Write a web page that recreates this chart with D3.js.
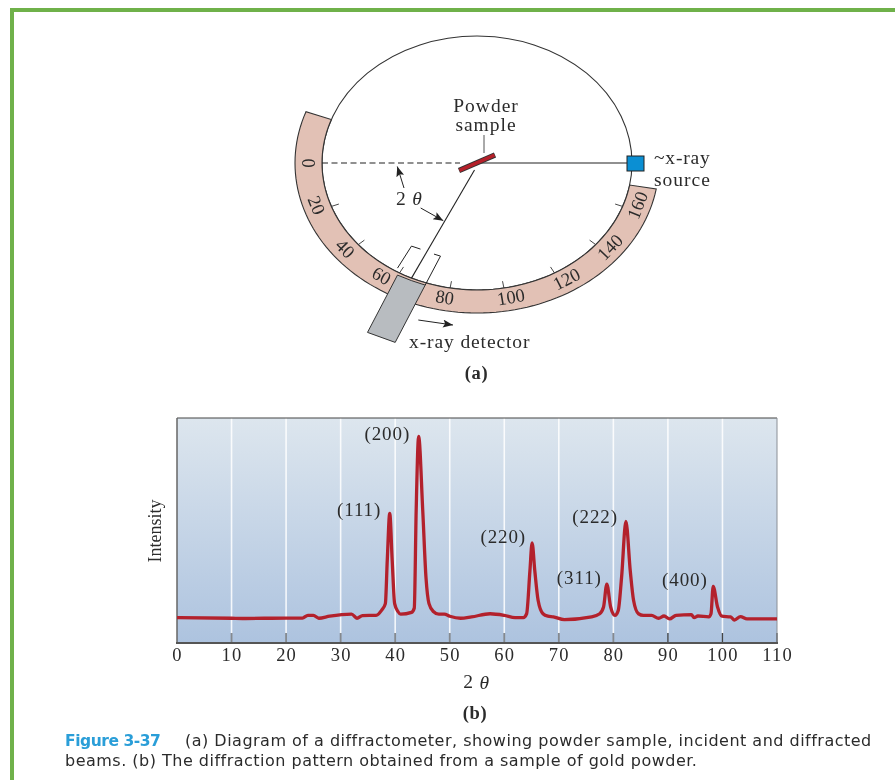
<!DOCTYPE html>
<html>
<head>
<meta charset="utf-8">
<script src="https://cdn.jsdelivr.net/npm/d3@7"></script>
<style>
  html, body { margin: 0; padding: 0; background: #fff; }
  svg { display: block; filter: blur(0.4px); }
  text { font-family: "Liberation Serif", serif; fill: #2b2b2b; }
</style>
</head>
<body>
<svg id="chart" width="895" height="780"></svg>
<script>
// pattern: 2 theta (deg) and intensity (0-100 of plot height)
let twoTheta = [0, 10, 12, 20, 23, 24, 25, 26, 28, 32, 33, 34, 36.5, 37.5, 38.2, 38.55, 39, 39.45, 39.9, 40.5, 41, 43, 43.5, 43.85, 44.3,
    45.05, 45.65, 46.2, 47, 48, 49, 50, 52, 54, 57.4, 60, 62, 63.5, 64.1, 64.7, 65.1, 65.6, 66.2, 67.1, 68, 69, 71, 76, 77.5, 78.2,
    78.8, 79.5, 80.3, 80.9, 81.5, 82.3, 83.1, 83.7, 84.6, 85.5, 87, 88.3, 89.3, 90.3, 91.5, 94.3, 94.8, 95.5, 97.5, 97.9, 98.3, 99.1, 99.9,
    101.5, 102.2, 103.3, 104.5, 110];
let intensity = [11.3, 11, 10.9, 11.1, 11.1, 12.3, 12.3, 11, 11.9, 12.8, 11, 12.2, 12.3, 14.5, 17.5, 36.8, 57.6, 36.8, 17.5, 14, 12.8, 13.6, 15.5, 59, 91.8,
    59, 29, 17.5, 14, 12.8, 12.8, 11.9, 11, 11.6, 13, 12.3, 11.3, 11.3, 13, 32, 44.5, 32, 19, 13, 11.9, 11.6, 10.4, 11.6, 13, 16,
    26.2, 16, 12.3, 14.5, 29, 54, 32, 19, 13, 12.3, 12.3, 11, 12, 10.7, 12.3, 12.6, 11.3, 12, 11.6, 13, 25.2, 16, 11.9,
    11.6, 10.2, 11.7, 10.7, 10.7];

let xTicks = d3.range(0, 111, 10);
let gridValues = d3.range(10, 101, 10);

let peakLabels = ["(111)", "(200)", "(220)", "(311)", "(222)", "(400)"];
let peakAngles = [39, 44.3, 65.1, 78.8, 82.3, 98.3];
let peakHeights = [57.6, 91.8, 44.5, 26.2, 54, 25.2];

let dialTicks = d3.range(0, 161, 20);
let dialLabelAngles = [0, 18, 38.7, 55.6, 79, 101.6, 122, 142, 162];
let dialStart = -20;
let dialEnd = 170;
let detectorAngle = 65;

let captionLines = [
    "(a) Diagram of a diffractometer, showing powder sample, incident and diffracted",
    "beams. (b) The diffraction pattern obtained from a sample of gold powder."
];

let svg = d3.select("#chart");

// -------------------- PAGE FRAME -------------------- //
svg.append("rect").attr("x", 10).attr("y", 8).attr("width", 885).attr("height", 4).attr("fill", "#6fb14a");
svg.append("rect").attr("x", 10).attr("y", 8).attr("width", 4).attr("height", 772).attr("fill", "#6fb14a");

let defs = svg.append("defs");
let grad = defs.append("linearGradient").attr("id", "plotBack")
    .attr("x1", 0).attr("y1", 0).attr("x2", 0).attr("y2", 1);
grad.append("stop").attr("offset", "0%").attr("stop-color", "#dde6ee");
grad.append("stop").attr("offset", "100%").attr("stop-color", "#adc3df");

defs.append("marker").attr("id", "head")
    .attr("viewBox", "0 0 10 8").attr("refX", 10).attr("refY", 4)
    .attr("markerWidth", 12).attr("markerHeight", 8).attr("markerUnits", "userSpaceOnUse")
    .attr("orient", "auto")
    .append("path").attr("d", "M0,0L10,4L0,8L2,4Z").attr("fill", "#222");

// -------------------- DIFFRACTOMETER (a) -------------------- //
let cx = 477, cy = 163;
let dial = svg.append("g");

// scale values on the dial go round the ellipse from the left
let angle = d3.scaleLinear().domain([0, 180]).range([0, Math.PI]);
let onEllipse = (v, rx, ry) => [cx - rx * Math.cos(angle(v)), cy + ry * Math.sin(angle(v))];

let innerRx = 155, innerRy = 127, outerRx = 182, outerRy = 150;

dial.append("ellipse")
    .attr("cx", cx).attr("cy", cy).attr("rx", innerRx).attr("ry", innerRy)
    .attr("fill", "#fff").attr("stroke", "#333").attr("stroke-width", 1.1);

let bandSteps = d3.range(dialStart, dialEnd + 1, 2);
let bandPoints = bandSteps.map(v => onEllipse(v, outerRx, outerRy))
    .concat(bandSteps.slice().reverse().map(v => onEllipse(v, innerRx, innerRy)));
dial.append("path")
    .attr("d", d3.line()(bandPoints) + "Z")
    .attr("fill", "#e2c1b5").attr("stroke", "#333").attr("stroke-width", 1.1);

dial.selectAll(".dial-tick")
    .data(dialTicks.filter(d => d > 0))
    .enter()
    .append("line")
    .attr("class", "dial-tick")
    .attr("x1", d => onEllipse(d, innerRx, innerRy)[0])
    .attr("y1", d => onEllipse(d, innerRx, innerRy)[1])
    .attr("x2", d => onEllipse(d, innerRx - 8, innerRy - 7)[0])
    .attr("y2", d => onEllipse(d, innerRx - 8, innerRy - 7)[1])
    .attr("stroke", "#333").attr("stroke-width", 0.9);

dial.selectAll(".dial-label")
    .data(dialTicks)
    .enter()
    .append("text")
    .attr("class", "dial-label")
    .attr("text-anchor", "middle")
    .attr("dominant-baseline", "central")
    .attr("font-size", 18.5)
    .attr("transform", (d, i) => {
        let t = dialLabelAngles[i];
        let p = onEllipse(t, 169, 137);
        let a = angle(t);
        let rot = Math.atan2(137 * Math.cos(a), 169 * Math.sin(a)) * 180 / Math.PI;
        return `translate(${p[0]},${p[1]}) rotate(${rot})`;
    })
    .text(d => d);

// beam lines
dial.append("line").attr("x1", 322).attr("y1", cy).attr("x2", 460).attr("y2", cy)
    .attr("stroke", "#222").attr("stroke-width", 1.1).attr("stroke-dasharray", "6 3.5");
dial.append("line").attr("x1", 478).attr("y1", cy).attr("x2", 628).attr("y2", cy)
    .attr("stroke", "#222").attr("stroke-width", 1.2);

// detector arm, slit and head hang off the point where the arm meets the circle
let hit = onEllipse(detectorAngle, innerRx, innerRy);
dial.append("line").attr("x1", 474.5).attr("y1", 170).attr("x2", hit[0]).attr("y2", hit[1])
    .attr("stroke", "#222").attr("stroke-width", 1.1);
let detector = dial.append("g").attr("transform", `translate(${hit[0]},${hit[1]})`);
detector.append("path").attr("d", "M-14,-10L0,-32L9,-29M13.7,7L29,-22L22.5,-24")
    .attr("fill", "none").attr("stroke", "#222").attr("stroke-width", 1);
detector.append("path").attr("d", "M-14,-3Q0,3 13.7,7L-16.3,64.3L-44,54.3Z")
    .attr("fill", "#b8bcc0").attr("stroke", "#333").attr("stroke-width", 1);

// powder sample
dial.append("line").attr("x1", 459).attr("y1", 170.5).attr("x2", 495).attr("y2", 155)
    .attr("stroke", "#333").attr("stroke-width", 5.5);
dial.append("line").attr("x1", 459.5).attr("y1", 170.3).attr("x2", 494.5).attr("y2", 155.2)
    .attr("stroke", "#b5202a").attr("stroke-width", 3.6);
dial.append("line").attr("x1", 484).attr("y1", 135).attr("x2", 484).attr("y2", 153)
    .attr("stroke", "#555").attr("stroke-width", 1);

// x-ray source
dial.append("rect").attr("x", 627).attr("y", 156).attr("width", 17).attr("height", 15)
    .attr("fill", "#0b8fd3").attr("stroke", "#222").attr("stroke-width", 1);

// arrows
let arrows = [[404, 188, 397.3, 166.5], [420.7, 208, 443.3, 220.7], [418.3, 320, 453, 325]];
dial.selectAll(".arrow").data(arrows).enter().append("line")
    .attr("class", "arrow")
    .attr("x1", d => d[0]).attr("y1", d => d[1]).attr("x2", d => d[2]).attr("y2", d => d[3])
    .attr("stroke", "#222").attr("stroke-width", 1).attr("marker-end", "url(#head)");

function label(g, x, y, str, size, spacing, anchor) {
    return g.append("text")
        .attr("x", x).attr("y", y)
        .attr("text-anchor", anchor || "middle")
        .attr("dominant-baseline", "central")
        .attr("font-size", size)
        .attr("letter-spacing", spacing)
        .text(str);
}

label(dial, 486, 105.5, "Powder", 19.5, 1);
label(dial, 486, 124.5, "sample", 19.5, 1);
label(dial, 654, 157.5, "~x-ray", 19.5, 0.8, "start");
label(dial, 654, 179, "source", 19.5, 1, "start");
label(dial, 409, 341.5, "x-ray detector", 19.5, 0.9, "start");
label(dial, 476.5, 373, "(a)", 18.5, 0.6).attr("font-weight", "bold");

let dialTheta = label(dial, 396, 198, "2 ", 19.5, 0.8, "start");
dialTheta.append("tspan").attr("font-style", "italic").text("θ");

// -------------------- DIFFRACTION PATTERN (b) -------------------- //
let plot = { left: 177, right: 777, top: 418, bottom: 643 };

let x = d3.scaleLinear().domain([0, 110]).range([plot.left, plot.right]);
let y = d3.scaleLinear().domain([0, 100]).range([plot.bottom, plot.top]);

svg.append("rect")
    .attr("x", plot.left).attr("y", plot.top)
    .attr("width", plot.right - plot.left).attr("height", plot.bottom - plot.top)
    .attr("fill", "url(#plotBack)");

svg.append("g")
    .selectAll("line")
    .data(gridValues)
    .enter()
    .append("line")
    .attr("x1", d => x(d)).attr("x2", d => x(d))
    .attr("y1", plot.top).attr("y2", plot.bottom - 10)
    .attr("stroke", "#fff").attr("stroke-opacity", 0.85).attr("stroke-width", 1.6);

let xAxis = svg.append("g")
    .attr("transform", `translate(0,${plot.bottom})`)
    .call(d3.axisBottom(x).tickValues(xTicks).tickSize(0).tickPadding(5));
xAxis.select(".domain").remove();
xAxis.selectAll("text")
    .attr("font-family", "Liberation Serif")
    .attr("font-size", 18.5)
    .attr("letter-spacing", 1.2)
    .attr("fill", "#2b2b2b");

svg.append("g")
    .selectAll("line")
    .data(gridValues.concat([110]))
    .enter()
    .append("line")
    .attr("x1", d => x(d)).attr("x2", d => x(d))
    .attr("y1", plot.bottom - 10).attr("y2", plot.bottom)
    .attr("stroke", d => d <= 80 ? "#85898e" : "#444")
    .attr("stroke-width", d => d <= 80 ? 1.8 : 1.3);

// plot frame
svg.append("line").attr("x1", plot.left).attr("x2", plot.right).attr("y1", plot.top).attr("y2", plot.top)
    .attr("stroke", "#444").attr("stroke-width", 1.1);
svg.append("line").attr("x1", plot.left).attr("x2", plot.left).attr("y1", plot.top).attr("y2", plot.bottom)
    .attr("stroke", "#666").attr("stroke-width", 1.5);
svg.append("line").attr("x1", plot.right).attr("x2", plot.right).attr("y1", plot.top).attr("y2", plot.bottom)
    .attr("stroke", "#8a8f96").attr("stroke-width", 1);
svg.append("line").attr("x1", plot.left - 1).attr("x2", plot.right + 1).attr("y1", plot.bottom).attr("y2", plot.bottom)
    .attr("stroke", "#555").attr("stroke-width", 2);

let pattern = d3.line()
    .x((d, i) => x(twoTheta[i]))
    .y(d => y(d))
    .curve(d3.curveMonotoneX);

svg.append("path")
    .datum(intensity)
    .attr("d", pattern)
    .attr("fill", "none")
    .attr("stroke", "#b3212c")
    .attr("stroke-width", 3.3)
    .attr("stroke-linejoin", "round");

// nudge of each peak label from its peak top
let peakNudge = [[-8.5, -4], [-8.5, -3], [-6, -6], [-5, -7], [-8, -5], [-5.5, -7]];
svg.append("g")
    .selectAll("text")
    .data(peakLabels)
    .enter()
    .append("text")
    .attr("x", (d, i) => x(peakAngles[i]) + peakNudge[i][0])
    .attr("y", (d, i) => y(peakHeights[i]) + peakNudge[i][1])
    .attr("text-anchor", "end")
    .attr("dominant-baseline", "central")
    .attr("font-size", 19)
    .attr("letter-spacing", 0.9)
    .text(d => d);

svg.append("text")
    .attr("transform", "translate(155,531) rotate(-90)")
    .attr("text-anchor", "middle")
    .attr("dominant-baseline", "central")
    .attr("font-size", 18)
    .text("Intensity");

let xTitle = label(svg, 476.5, 681.5, "2 ", 19.5, 0.8);
xTitle.append("tspan").attr("font-style", "italic").text("θ");

label(svg, 475, 712.5, "(b)", 18.5, 0.6).attr("font-weight", "bold");

// -------------------- CAPTION -------------------- //
svg.append("text")
    .attr("x", 65).attr("y", 746)
    .style("font-family", "'DejaVu Sans'")
    .style("fill", "#2a9ed8")
    .attr("font-size", 15.5)
    .attr("font-weight", "bold")
    .attr("letter-spacing", -0.45)
    .text("Figure 3-37");

svg.selectAll(".caption")
    .data(captionLines)
    .enter()
    .append("text")
    .attr("class", "caption")
    .attr("x", (d, i) => i === 0 ? 185 : 65)
    .attr("y", (d, i) => 746 + i * 20)
    .style("font-family", "'DejaVu Sans'")
    .attr("font-size", 16)
    .attr("letter-spacing", 0.49)
    .text(d => d);
</script>
</body>
</html>
